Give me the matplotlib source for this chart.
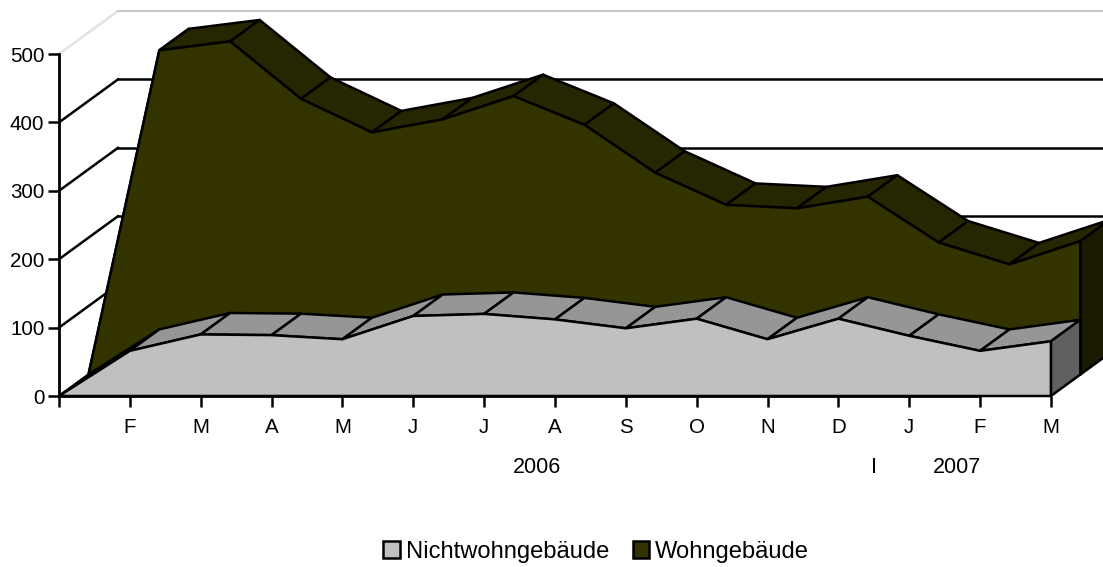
import matplotlib
matplotlib.use("Agg")
import matplotlib.pyplot as plt
from matplotlib.patches import Patch

plt.rcParams['font.family'] = ['Liberation Sans', 'DejaVu Sans']

# Monate und Werte
months = ['', 'F', 'M', 'A', 'M', 'J', 'J', 'A', 'S', 'O', 'N', 'D', 'J', 'F', 'M']
nichtwohn = [0, 66, 90, 89, 83, 117, 120, 112, 99, 113, 83, 113, 88, 66, 80]
wohn = [0, 474, 487, 403, 354, 373, 407, 365, 295, 248, 243, 260, 193, 161, 195]
y_ticks = [0, 100, 200, 300, 400, 500]
year_labels = ['2006', 'I', '2007']
year_pos = [6.75, 11.5, 12.68]

# Tiefe einer Reihe in Achseneinheiten
DX = 0.416
DY = 31.4
LW = 1.8
PX_X = 70.85
PX_Y = 0.684


def draw_series(ax, values, slot, face, top, wall):
    n = len(values)
    x0 = [i + slot * DX for i in range(n)]
    y0 = [v + slot * DY for v in values]
    x1 = [x + DX for x in x0]
    y1 = [y + DY for y in y0]
    style = dict(edgecolor='black', linewidth=LW, joinstyle='round')
    for i in range(n - 1):
        ax.fill([x0[i], x0[i + 1], x1[i + 1], x1[i]],
                [y0[i], y0[i + 1], y1[i + 1], y1[i]], facecolor=top, **style)
    base = slot * DY
    ax.fill([x0[-1], x1[-1], x1[-1], x0[-1]],
            [y0[-1], y1[-1], base + DY, base], facecolor=wall, **style)
    ax.fill(x0 + [x0[-1]], y0 + [base], facecolor=face, **style)


fig = plt.figure(figsize=(11.03, 5.67), dpi=100)
ax = fig.add_axes([0, 0, 1, 1])
ax.set_xlim(-59 / PX_X, (1103 - 59) / PX_X)
ax.set_ylim((396 - 567) / PX_Y, 396 / PX_Y)
ax.patch.set_visible(False)

# Gitter auf Seiten- und Rueckwand
for v in y_ticks[1:]:
    color = '#c8c8c8' if v == 500 else 'black'
    lw = 1.4 if v == 500 else LW
    ax.plot([0, 2 * DX], [v, v + 2 * DY], color=color, lw=lw, zorder=1)
    if v == 500:
        ax.plot([0, 2 * DX], [v, v + 2 * DY], color='white', lw=0.5, zorder=1)
    ax.plot([2 * DX, ax.get_xlim()[1]], [v + 2 * DY, v + 2 * DY], color=color, lw=lw, zorder=1)

draw_series(ax, wohn, 1, '#333300', '#262600', '#1a1a00')
draw_series(ax, nichtwohn, 0, '#c0c0c0', '#969696', '#606060')

# Achsen
for name in ['top', 'right']:
    ax.spines[name].set_visible(False)
ax.spines['left'].set_position(('data', 0))
ax.spines['bottom'].set_position(('data', 0))
ax.spines['left'].set_bounds(0, 500)
ax.spines['bottom'].set_bounds(0, 13)
ax.spines['left'].set_linewidth(2)
ax.spines['bottom'].set_linewidth(2)
ax.set_xticks(range(len(months)), months)
ax.set_yticks(y_ticks)
ax.tick_params(axis='both', length=8, width=LW, labelsize=14.8, pad=2.5, colors='black')
ax.tick_params(axis='x', pad=8)

for label, x in zip(year_labels, year_pos):
    ax.text(x, -104, label, ha='center', va='center', fontsize=15.5)

handles = [Patch(facecolor='#c0c0c0', edgecolor='black', linewidth=LW),
           Patch(facecolor='#333300', edgecolor='black', linewidth=LW)]
fig.legend(handles, ['Nichtwohngebäude', 'Wohngebäude'], ncol=2, frameon=False,
           loc='center', bbox_to_anchor=(596 / 1103, 1 - 552 / 567), fontsize=17.1,
           handlelength=0.7, handleheight=0.7, handletextpad=0.25, columnspacing=1.0)

fig.savefig('out.png', dpi=100)
